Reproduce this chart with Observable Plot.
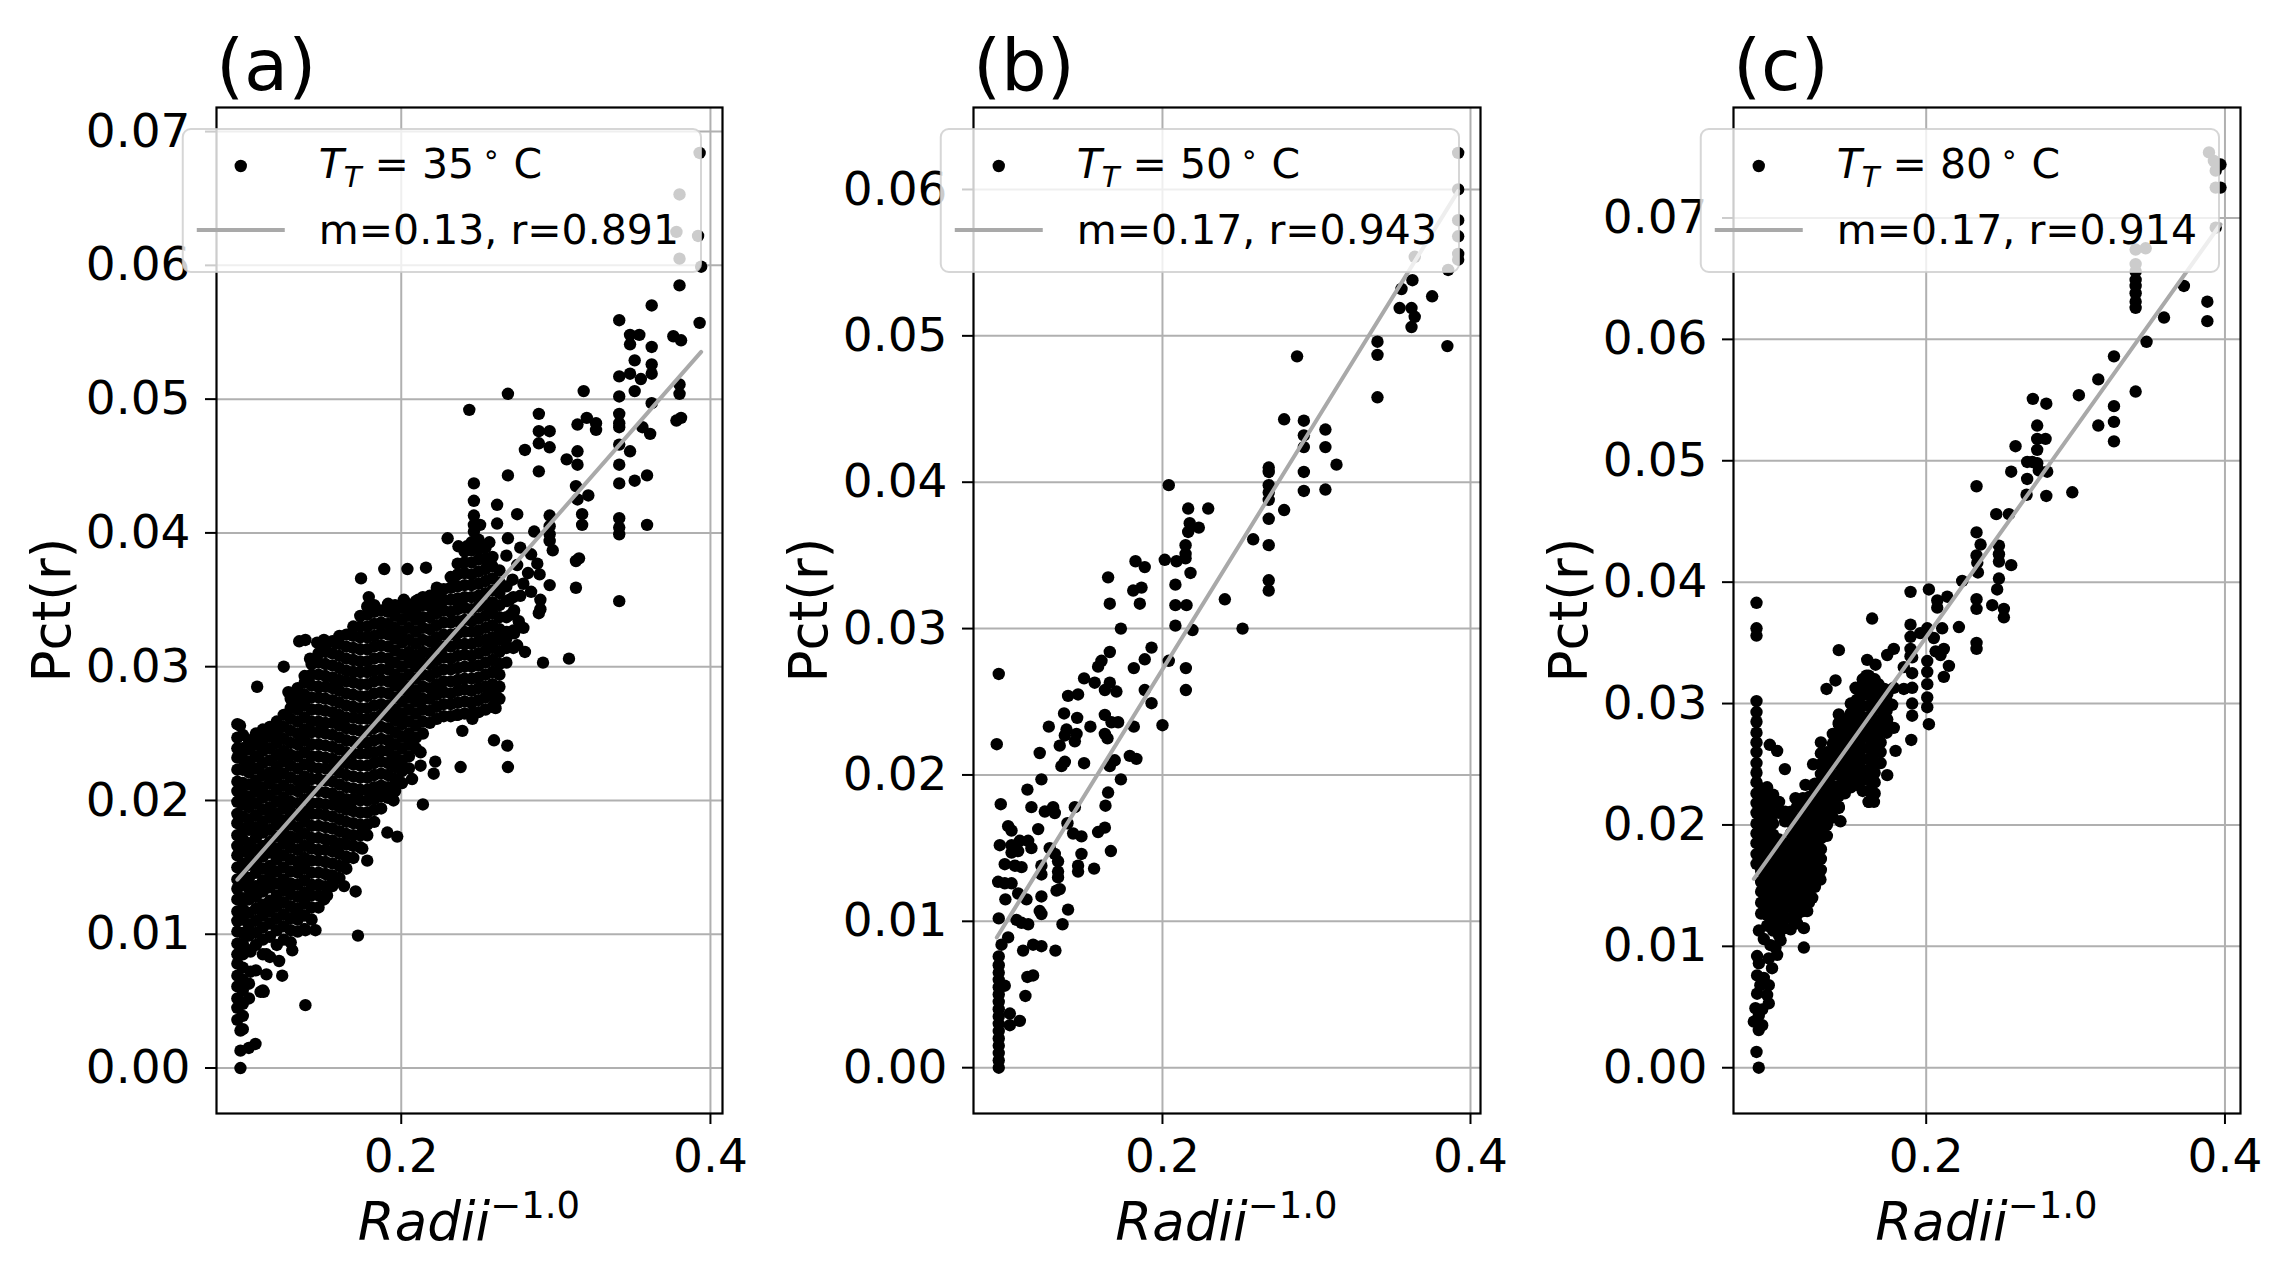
<!DOCTYPE html>
<html><head><meta charset="utf-8">
<script src="https://cdn.jsdelivr.net/npm/d3@7"></script>
<script src="https://cdn.jsdelivr.net/npm/@observablehq/plot@0.6"></script>
<style>
body{margin:0;background:#fff}
#wrap{position:relative;width:2278px;height:1268px;background:#fff}
#wrap svg{position:absolute;top:0}
</style></head><body><div id="wrap"></div>
<script>
// ---------------- DATA (y values in units of 1e-3) ----------------
const panelTitles = ["(a)", "(b)", "(c)"];
const temps = [35, 50, 80];
const legendM = ["0.13", "0.17", "0.17"];
const legendR = ["0.891", "0.943", "0.914"];
const fitSlope = [0.1315, 0.1702, 0.1726];
const fitIntercept = [0.00172, -0.00683, 0.00096];
const xTicks = [0.2, 0.4];
const yTicksA = [0, 0.01, 0.02, 0.03, 0.04, 0.05, 0.06, 0.07];
const yTicksB = [0, 0.01, 0.02, 0.03, 0.04, 0.05, 0.06];
const yTicksC = [0, 0.01, 0.02, 0.03, 0.04, 0.05, 0.06, 0.07];

// Panel (a): individually readable points [x, y]
const ptsA = [[0.393,68.4],[0.380,65.3],[0.378,62.5],[0.392,62.2],[0.380,60.5],[0.394,59.9],[0.380,58.5],[0.362,57.0],[0.341,55.9],[0.393,55.7],
[0.348,54.8],[0.354,54.8],[0.348,54.1],[0.362,53.9],[0.376,54.7],[0.381,54.4],[0.351,52.9],[0.362,52.6],[0.362,51.9],[0.341,51.7],
[0.348,51.9],[0.355,51.5],[0.351,50.6],[0.318,50.6],[0.380,51.1],[0.380,50.4],[0.341,50.2],[0.269,50.4],[0.244,49.2],[0.362,49.7],
[0.341,48.9],[0.341,48.2],[0.341,47.9],[0.289,48.9],[0.320,48.6],[0.326,48.2],[0.326,47.7],[0.314,48.1],[0.378,48.4],[0.381,48.6],
[0.356,47.9],[0.361,47.4],[0.289,47.6],[0.296,47.6],[0.289,46.7],[0.296,46.4],[0.280,46.2],[0.341,46.6],[0.348,46.1],[0.314,46.1],
[0.307,45.5],[0.314,45.1],[0.341,45.1],[0.289,44.6],[0.269,44.3],[0.359,44.3],[0.351,43.9],[0.341,43.7],[0.247,43.7],[0.313,43.5],
[0.314,42.5],[0.321,42.8],[0.247,42.4],[0.262,42.1],[0.275,41.4],[0.247,41.3],[0.247,40.6],[0.251,40.6],[0.247,40.1],[0.262,40.7],
[0.296,41.3],[0.296,40.5],[0.296,39.9],[0.296,39.4],[0.298,38.7],[0.317,41.4],[0.317,40.6],[0.341,41.1],[0.341,40.4],[0.341,39.9],
[0.359,40.6],[0.286,40.1],[0.269,39.6],[0.230,39.6],[0.257,39.3],[0.237,39.0],[0.2425,39.0],[0.277,38.9],[0.315,38.1],[0.313,37.9],
[0.284,38.4],[0.288,37.7],[0.282,37.0],[0.2895,36.9],[0.296,36.1],[0.272,36.5],[0.174,36.6],[0.189,37.3],[0.204,37.3],[0.216,37.4],
[0.179,35.2],[0.179,34.4],[0.183,34.3],[0.2017,35.0],[0.2017,34.4],[0.211,35.0],[0.223,35.9],[0.223,34.4],[0.235,36.1],[0.236,35.0],
[0.313,35.9],[0.341,34.9],[0.290,35.0],[0.290,34.3],[0.270,35.0],[0.277,35.3],[0.273,34.2],[0.275,37.6],[0.279,36.2],[0.284,35.6],
[0.268,38.3],[0.271,33.9],[0.276,33.4],[0.273,32.5],[0.279,32.9],[0.268,32.1],[0.275,31.6],[0.280,31.1],[0.289,34.0],[0.2917,30.3],
[0.3085,30.6],[0.2125,23.6],[0.2125,22.6],[0.214,19.7],[0.207,21.6],[0.1974,21.4],[0.195,20.0],[0.182,20.5],[0.189,20.7],[0.167,19.6],
[0.1974,17.3],[0.191,17.6],[0.175,17.6],[0.1748,16.4],[0.178,15.5],[0.165,15.7],[0.1705,13.2],[0.163,13.6],[0.154,14.4],[0.156,14.0],
[0.150,12.6],[0.152,12.9],[0.172,9.9],[0.138,10.3],[0.1445,10.3],[0.1327,11.6],[0.1295,8.8],[0.1128,8.5],[0.121,8.0],[0.1128,7.0],
[0.123,6.9],[0.109,5.7],[0.111,5.7],[0.138,4.7],[0.1025,7.2],[0.1025,8.7],[0.096,2.8],[0.096,1.3],[0.1014,1.5],[0.1057,1.8],
[0.096,0.0],[0.222,22.9],[0.221,22.0],[0.2384,22.5],[0.2395,25.2],[0.260,24.5],[0.2686,24.1],[0.269,22.5],[0.236,26.4],[0.246,26.1],
[0.261,26.9],[0.261,27.6],[0.261,28.3],[0.0957,25.6],[0.1068,28.5],[0.124,30.0],[0.127,28.1],[0.131,27.6],[0.138,32.0],[0.1456,31.8],
[0.1575,31.8],[0.141,30.6],[0.134,31.9],[0.150,32.0]];

// Panel (a): dense stacks read column by column [x, [y...]]
const colsA = [
[0.0940,[3.6,4.5,5.2,6.1,6.9,7.8,8.5,9.3,10.2,11.0,11.7,12.6,13.4,14.1,15.0,15.9,16.6,17.4,18.3,19.0,19.9,20.7,21.4,22.3,23.2,23.9,24.7,25.7]],
[0.0975,[2.9,3.9,4.8,5.8,6.6,7.5,8.5,9.3,10.1,11.1,11.9,12.7,13.7,14.5,15.3,16.2,17.1,17.9,18.8,19.7,20.5,21.3,22.3,23.1,23.9,24.9]],
[0.1015,[5.2,6.3,8.8,9.9,10.7,11.6,12.6,13.4,14.2,15.2,16.0,16.8,17.8,18.6,19.5,20.3,21.2,22.1,22.9,23.8,24.5]],
[0.1060,[7.3,9.2,10.1,11.0,11.9,12.8,13.6,14.6,15.4,16.3,17.2,18.0,18.9,19.8,20.7,21.5,22.4,23.3,24.2,25.0]],
[0.1105,[5.8,8.5,9.6,10.5,11.4,12.2,13.2,14.0,14.9,15.8,16.6,17.6,18.4,19.3,20.2,21.0,21.9,22.8,23.7,24.5,25.3]],
[0.1150,[8.3,9.8,10.8,11.7,12.5,13.5,14.3,15.1,16.1,16.9,17.8,18.7,19.5,20.4,21.3,22.1,23.0,23.9,24.8,25.5]],
[0.1195,[9.2,10.3,11.2,12.1,12.9,13.8,14.7,15.6,16.4,17.3,18.2,19.0,19.9,20.8,21.7,22.5,23.4,24.3,25.1,25.9]],
[0.1240,[9.6,10.6,11.5,12.4,13.3,14.1,15.0,15.9,16.8,17.6,18.5,19.4,20.2,21.1,22.0,22.9,23.7,24.6,25.5,26.4]],
[0.1285,[9.4,10.3,11.2,12.1,13.0,13.8,14.7,15.6,16.5,17.3,18.2,19.1,19.9,20.8,21.7,22.6,23.4,24.3,25.2,26.1,26.9,27.6]],
[0.1330,[10.2,11.1,11.9,12.8,13.7,14.6,15.4,16.3,17.2,18.0,18.9,19.8,20.7,21.5,22.4,23.3,24.2,25.0,25.9,26.8,27.6,28.4]],
[0.1375,[10.4,11.4,12.3,13.1,14.0,14.9,15.7,16.6,17.5,18.4,19.2,20.1,21.0,21.8,22.7,23.6,24.5,25.3,26.2,27.1,27.9,28.8,29.3]],
[0.1420,[11.1,12.0,12.9,13.7,14.6,15.5,16.4,17.2,18.1,19.0,19.8,20.7,21.6,22.5,23.3,24.2,25.1,25.9,26.8,27.7,28.6,29.4,30.2]],
[0.1465,[12.0,12.9,13.7,14.6,15.5,16.3,17.2,18.1,19.0,19.8,20.7,21.6,22.4,23.3,24.2,25.1,25.9,26.8,27.7,28.5,29.4,30.3,31.0]],
[0.1510,[12.8,13.6,14.5,15.4,16.3,17.1,18.0,18.9,19.7,20.6,21.5,22.4,23.2,24.1,25.0,25.8,26.7,27.6,28.5,29.3,30.2,31.1,31.6]],
[0.1555,[13.6,14.4,15.3,16.2,17.0,17.9,18.8,19.7,20.5,21.4,22.3,23.1,24.0,24.9,25.8,26.6,27.5,28.4,29.2,30.1,31.0,31.9]],
[0.1600,[14.2,15.1,16.0,16.8,17.7,18.6,19.5,20.3,21.2,22.1,22.9,23.8,24.7,25.6,26.4,27.3,28.2,29.0,29.9,30.8,31.7,32.3]],
[0.1645,[14.9,15.8,16.7,17.5,18.4,19.3,20.1,21.0,21.9,22.8,23.6,24.5,25.4,26.2,27.1,28.0,28.9,29.7,30.6,31.5,32.4]],
[0.1690,[15.7,16.6,17.4,18.3,19.2,20.1,20.9,21.8,22.7,23.5,24.4,25.3,26.2,27.0,27.9,28.8,29.6,30.5,31.4,32.3,33.0]],
[0.1735,[16.5,17.4,18.2,19.1,20.0,20.8,21.7,22.6,23.5,24.3,25.2,26.1,26.9,27.8,28.7,29.6,30.4,31.3,32.2,33.0,33.8]],
[0.1780,[17.4,18.2,19.1,20.0,20.8,21.7,22.6,23.5,24.3,25.2,26.1,26.9,27.8,28.7,29.6,30.4,31.3,32.2,33.0,33.9,34.5]],
[0.1825,[18.4,19.3,20.1,21.0,21.9,22.8,23.6,24.5,25.4,26.2,27.1,28.0,28.9,29.7,30.6,31.5,32.3,33.2,34.1,34.6]],
[0.1870,[19.4,20.3,21.1,22.0,22.9,23.7,24.6,25.5,26.4,27.2,28.1,29.0,29.8,30.7,31.6,32.5,33.3,34.2]],
[0.1915,[20.2,21.0,21.9,22.8,23.7,24.5,25.4,26.3,27.1,28.0,28.9,29.8,30.6,31.5,32.4,33.2,34.1,34.7]],
[0.1960,[20.7,21.6,22.5,23.3,24.2,25.1,26.0,26.8,27.7,28.6,29.4,30.3,31.2,32.1,32.9,33.8,34.6]],
[0.2005,[21.3,22.2,23.0,23.9,24.8,25.7,26.5,27.4,28.3,29.1,30.0,30.9,31.8,32.6,33.5,34.4]],
[0.2050,[22.4,23.3,24.2,25.0,25.9,26.8,27.7,28.5,29.4,30.3,31.1,32.0,32.9,33.8,34.6]],
[0.2095,[23.9,24.7,25.6,26.5,27.4,28.2,29.1,30.0,30.8,31.7,32.6,33.5,34.3,34.9]],
[0.2140,[25.0,25.9,26.8,27.6,28.5,29.4,30.3,31.1,32.0,32.9,33.7,34.6,35.2]],
[0.2185,[25.8,26.7,27.6,28.4,29.3,30.2,31.0,31.9,32.8,33.7,34.5,35.3]],
[0.2230,[26.1,27.0,27.9,28.7,29.6,30.5,31.4,32.2,33.1,34.0,34.8,35.6]],
[0.2275,[26.3,27.2,28.1,28.9,29.8,30.7,31.5,32.4,33.3,34.2,35.0,35.8]],
[0.2320,[26.3,27.2,28.0,28.9,29.8,30.6,31.5,32.4,33.3,34.1,35.0,35.9,36.7]],
[0.2365,[26.4,27.3,28.2,29.0,29.9,30.8,31.7,32.5,33.4,34.3,35.1,36.0,36.9,37.7]],
[0.2410,[26.5,27.4,28.3,29.1,30.0,30.9,31.7,32.6,33.5,34.4,35.2,36.1,37.0,37.8,38.6]],
[0.2455,[26.5,27.3,28.2,29.1,30.0,30.8,31.7,32.6,33.4,34.3,35.2,36.1,36.9,37.8,38.7,39.3]],
[0.2500,[26.6,27.5,28.4,29.2,30.1,31.0,31.9,32.7,33.6,34.5,35.3,36.2,37.1,38.0,38.8,39.5]],
[0.2545,[26.8,27.7,28.5,29.4,30.3,31.2,32.0,32.9,33.8,34.6,35.5,36.4,37.3,38.1,38.9]],
[0.2590,[27.0,27.9,28.7,29.6,30.5,31.4,32.2,33.1,34.0,34.8,35.7,36.6,37.5,38.2]],
[0.2635,[27.6,28.5,29.4,30.2,31.1,32.0,32.8,33.7,34.6,35.5,36.3,37.2]],
[0.2680,[30.3,31.4,32.6,33.7,34.9,36.0]],
[0.2725,[31.4,32.7,34.0,35.2]]];

// Panel (b): individually readable points [x, y]
const ptsB = [[0.392,62.5],[0.392,60.0],[0.392,57.9],[0.392,56.8],[0.392,55.6],[0.392,55.2],[0.3855,54.5],[0.3638,55.4],
[0.3623,53.8],[0.3552,53.2],[0.3751,52.7],[0.354,51.9],[0.3617,51.9],[0.3638,51.3],[0.3617,50.6],[0.3396,49.6],[0.3396,48.7],[0.385,49.3],
[0.2874,48.6],[0.3396,45.8],[0.279,44.3],[0.2918,44.2],[0.2918,43.2],[0.2918,42.4],[0.3058,43.6],[0.3058,42.4],[0.313,41.2],[0.269,41.0],
[0.269,40.7],[0.269,39.8],[0.269,39.3],[0.269,38.8],[0.2918,40.7],[0.2918,39.4],[0.3058,39.5],[0.279,38.1],[0.269,37.5],[0.2589,36.1],
[0.269,35.7],[0.269,33.3],[0.269,32.6],[0.2405,32.0],[0.2041,39.8],[0.2167,38.2],[0.2297,38.2],[0.2177,37.2],[0.2236,36.9],[0.2167,36.6],
[0.215,35.7],[0.215,35.1],[0.215,34.8],[0.2015,34.7],[0.2091,34.6],[0.2182,33.8],[0.2084,33.0],[0.2084,31.6],[0.2156,31.6],[0.1825,34.6],
[0.1885,34.2],[0.181,32.6],[0.1864,32.8],[0.1853,31.7],[0.1647,33.5],[0.1658,31.7],
[0.173,30.0],[0.2084,30.2],[0.2195,29.9],[0.252,30.0],[0.1658,28.4],[0.1604,27.8],[0.1582,27.4],[0.1929,28.7],[0.1885,27.9],[0.1814,27.3],
[0.2041,27.8],[0.2152,27.3],[0.2152,25.8],[0.0937,26.9],[0.1491,26.6],[0.156,26.3],[0.1658,26.3],[0.1626,25.8],[0.1701,25.7],[0.1885,25.8],
[0.1929,24.9],[0.1387,25.4],[0.1452,25.5],[0.1361,24.2],[0.1446,23.9],[0.1626,24.1],[0.1669,23.6],[0.1712,23.6],[0.2,23.4],[0.1814,23.3],
[0.1532,23.3],[0.1262,23.3],[0.1377,23.1],[0.1442,22.8],[0.1366,22.7],[0.1626,22.8],[0.1643,22.5],[0.1333,22.0],[0.1431,22.3],[0.0924,22.1],
[0.1203,21.5],[0.1788,21.3],[0.1831,21.1],[0.169,21.0],[0.1658,20.6],[0.1366,20.9],[0.1344,20.6],[0.1491,20.8],[0.173,19.7],[0.1214,19.7],
[0.1123,19.0],[0.1647,18.8],[0.095,18.0],[0.1149,17.8],[0.1236,17.5],[0.129,17.8],[0.1301,17.4],[0.1431,17.8],[0.163,17.9],[0.0998,16.5],
[0.102,16.2],[0.1193,16.3],[0.1383,16.7],[0.142,16.0],[0.1474,15.8],[0.1626,16.4],[0.1582,16.1],[0.0944,15.2],[0.102,15.2],[0.1074,15.5],
[0.1128,15.5],[0.1149,15.0],[0.102,14.7],[0.1063,14.8],[0.1268,15.0],[0.1301,14.6],[0.1322,14.1],[0.1474,14.6],[0.1665,14.8],[0.0976,13.9],
[0.1041,13.8],[0.1085,13.7],[0.1214,13.8],[0.1214,13.2],[0.1322,13.4],[0.1322,13.0],[0.1452,13.8],[0.1452,13.4],[0.1556,13.6],[0.0933,12.7],
[0.0976,12.6],[0.102,12.6],[0.1063,11.9],[0.1117,11.5],[0.098,11.5],[0.1214,11.7],[0.1312,12.1],[0.1333,12.2],[0.1387,10.8],[0.1203,10.7],
[0.1214,10.5],[0.0937,10.2],[0.1052,10.1],[0.1085,9.9],[0.1128,9.8],[0.1351,9.8],[0.0998,8.9],[0.0955,8.4],[0.116,8.4],[0.1214,8.3],
[0.1095,8.0],[0.1305,8.0],[0.1123,6.2],[0.116,6.3],[0.111,4.9],[0.1009,3.7],[0.1074,3.2],[0.1009,2.9],[0.0976,5.6]];

// Panel (b): stacked column at the smallest radius
const colsB = [[0.0937,[0.0,0.5,1.0,1.5,2.0,2.5,3.0,3.5,4.0,4.5,5.0,5.5,6.0,6.5,7.0,7.6]]];

// Panel (c): individually readable points [x, y]
const ptsC = [[0.3893,75.4],[0.3926,74.7],[0.3938,73.9],[0.3938,72.5],[0.3938,69.2],[0.397,74.4],[0.397,72.5],[0.3402,67.4],[0.3469,67.5],
[0.3402,66.2],[0.3402,65.6],[0.3402,64.9],[0.3402,64.4],[0.3402,63.8],[0.3402,63.1],[0.3402,62.6],[0.3725,64.4],[0.3882,63.1],[0.3882,61.5],
[0.3592,61.8],[0.3475,59.8],[0.3257,58.6],[0.3152,56.7],[0.3402,55.7],[0.3022,55.4],[0.2714,55.1],[0.2804,54.7],[0.3257,54.5],[0.3257,53.2],
[0.3257,51.6],[0.3152,52.9],[0.2743,52.9],[0.2743,51.8],[0.2799,51.8],[0.2598,51.2],[0.2743,50.9],[0.271,49.9],[0.2676,49.9],[0.2743,49.8],
[0.2754,49.2],[0.2569,49.1],[0.281,49.1],[0.2676,48.5],[0.2337,47.9],[0.2978,47.4],[0.2804,47.1],[0.2672,47.2],[0.2469,45.6],[0.2554,45.6],
[0.2337,44.1],[0.2364,43.1],[0.2337,42.2],[0.2342,41.6],[0.2346,40.8],[0.2487,43.0],[0.2487,42.3],[0.2487,41.7],[0.2569,41.4],[0.2487,40.3],
[0.2475,39.4],[0.2241,40.1],[0.1895,39.2],[0.2018,39.4],[0.2141,38.8],[0.2074,38.5],[0.2074,37.9],[0.2337,38.6],[0.2337,37.8],[0.2442,38.1],
[0.252,37.8],[0.252,37.1],[0.0864,38.3],[0.1638,37.0],
[0.0864,36.2],[0.0864,35.6],[0.1415,34.4],[0.1739,34.0],[0.1783,34.5],[0.1605,33.6],[0.1661,33.2],
[0.1895,36.5],[0.1895,35.5],[0.1895,34.5],[0.1895,33.9],[0.2007,36.2],[0.2051,35.4],[0.2107,36.2],[0.2118,34.5],[0.2063,34.3],[0.2219,36.3],
[0.2337,35.0],[0.2337,34.5],[0.2152,33.1],[0.2118,32.2],[0.2007,33.5],[0.2007,32.6],[0.2007,31.6],[0.2007,30.5],[0.2007,29.7],[0.2018,28.3],
[0.1906,33.8],[0.1906,32.5],[0.1906,31.3],[0.1906,30.0],[0.1906,29.0],[0.190,27.0],[0.1393,31.9],[0.1333,31.2],[0.1527,31.3],[0.160,32.3],
[0.164,32.0],[0.168,31.6],[0.172,31.2],[0.162,31.0],[0.166,30.5],[0.170,30.2],[0.174,30.8],[0.1783,31.3],[0.185,31.2],[0.1772,29.9],
[0.1739,28.7],[0.1783,28.0],[0.1795,26.1],[0.1739,24.1],[0.1683,26.6],[0.1415,28.3],[0.1393,27.3],[0.1616,21.9],[0.1650,21.9],
[0.1243,25.0],[0.1426,20.3],[0.1415,21.4],[0.1348,20.6],[0.1192,23.3],[0.1125,22.2],[0.0953,26.6],[0.1002,26.1],[0.1054,24.6],
[0.0868,9.2],[0.0880,8.6],[0.0946,9.0],[0.1002,9.3],[0.0968,8.2],[0.0868,7.6],[0.0913,7.4],[0.0890,6.8],[0.0946,6.8],[0.0868,6.1],
[0.0935,6.0],[0.0946,5.3],[0.0857,4.9],[0.0902,4.8],[0.0879,4.3],[0.0846,3.8],[0.0902,3.5],[0.0879,3.1],[0.0864,1.3],[0.0879,0.0],
[0.0913,10.6],[0.0880,11.3],[0.0958,10.1],[0.0991,9.9],[0.1025,10.5],[0.1092,11.4],[0.1136,11.9],[0.1181,11.5],[0.1181,9.9],[0.1203,12.9],
[0.1237,14.0],[0.1292,15.5],[0.2096,34.0],[0.1850,33.0],[0.1960,35.8]];

// Panel (c): dense stacks read column by column [x, [y...]]
const colsC = [
[0.0864,[16.8,17.6,18.5,19.3,20.1,21.0,21.8,22.6,23.5,24.3,25.1,26.0,26.8,27.6,28.5,29.3,30.2]],
[0.0895,[12.7,13.6,14.5,15.3,16.2,17.1,18.0,18.8,19.7,20.6,21.5,22.3,23.0]],
[0.0935,[11.7,12.6,13.5,14.3,15.2,16.1,17.0,17.8,18.7,19.6,20.5,21.3,22.2,23.1]],
[0.0975,[11.3,12.2,13.1,13.9,14.8,15.7,16.6,17.4,18.3,19.2,20.1,20.9,21.8,22.5]],
[0.1015,[10.9,11.8,12.7,13.5,14.4,15.3,16.2,17.0,17.9,18.8,21.0,21.9]],
[0.1055,[11.5,12.4,13.3,14.1,15.0,15.9,16.8,17.6,18.5,20.3,21.1]],
[0.1095,[12.3,13.2,14.1,14.9,15.8,16.7,17.6,18.4,19.3,20.2,21.1]],
[0.1135,[12.6,13.5,14.3,15.2,16.1,17.0,17.8,18.7,19.6,20.5,21.5]],
[0.1175,[12.9,13.8,14.6,15.5,16.4,17.3,18.1,19.0,19.9,20.8,21.7,22.2]],
[0.1215,[13.6,14.5,15.3,16.2,17.1,18.0,18.8,19.7,20.6,21.5,22.3]],
[0.1255,[14.9,15.8,16.6,17.5,18.4,19.3,20.1,21.0,21.9,22.8,23.4]],
[0.1295,[16.3,17.2,18.0,18.9,19.8,20.7,21.5,22.4,23.3,24.2,25.0,25.9,26.8]],
[0.1335,[19.1,20.0,20.8,21.7,22.6,23.5,24.3,25.2,26.0]],
[0.1375,[20.6,21.5,22.3,23.2,24.1,25.0,25.8,26.7,27.5]],
[0.1415,[21.5,22.4,23.2,24.1,25.0,25.9,26.7,27.6,28.4,29.1]],
[0.1455,[22.6,23.5,24.3,25.2,26.1,27.0,27.8,28.7]],
[0.1495,[23.1,24.0,24.8,25.7,26.6,27.5,28.3,29.2,30.0]],
[0.1535,[23.3,24.2,25.0,25.9,26.8,27.7,28.5,29.4,30.3,31.2]],
[0.1575,[22.8,23.7,24.5,25.4,26.3,27.2,28.0,28.9,29.8,30.7,31.5,32.0]],
[0.1615,[21.9,22.8,23.7,24.5,25.4,26.3,27.2,28.0,28.9,29.8,30.7,31.5,32.3]],
[0.1655,[22.6,23.5,24.3,25.2,26.1,27.0,27.8,28.7,29.6,30.5,31.3,32.0]],
[0.1695,[25.1,26.0,26.8,27.7,28.6,29.5,30.3,31.2]],
[0.1735,[27.6,28.5,29.4,30.2,31.1]]];

// axis domains as read from the frames
const xDomains = [[0.0805, 0.4078], [0.0773, 0.4065], [0.0710, 0.4104]];
const yDomains = [[-0.0034, 0.0718], [-0.00313, 0.0656], [-0.00377, 0.0791]];

// ---------------- BUILD ----------------
function expand(pts, cols) {
  const out = pts.map(([x, y]) => ({x, y: y / 1000}));
  for (const [x, ys] of cols) for (const y of ys) out.push({x, y: y / 1000});
  return out;
}
const datasets = [expand(ptsA, colsA), expand(ptsB, colsB), expand(ptsC, colsC)];
const yTickSets = [yTicksA, yTicksB, yTicksC];

// layout of the three panels (svg offset, width, frame margins)
const layout = [
  {left: 0,    width: 760, ml: 216, mr: 38},
  {left: 760,  width: 760, ml: 213, mr: 40},
  {left: 1520, width: 758, ml: 213, mr: 38}
];
const MT = 107, MB = 155, H = 1268;
const FONT = "DejaVu Sans, Verdana, sans-serif";
const wrap = document.getElementById("wrap");

layout.forEach((L, i) => {
  const data = datasets[i];
  const [x0, x1] = d3.extent(data, d => d.x);
  const fit = [x0, x1].map(x => ({x, y: fitIntercept[i] + fitSlope[i] * x}));
  const svg = Plot.plot({
    width: L.width, height: H,
    marginLeft: L.ml, marginRight: L.mr, marginTop: MT, marginBottom: MB,
    x: {domain: xDomains[i]},
    y: {domain: yDomains[i]},
    style: {fontFamily: FONT, color: "black", background: "white", overflow: "visible"},
    marks: [
      Plot.gridX({ticks: xTicks, stroke: "#b0b0b0", strokeOpacity: 1, strokeWidth: 2}),
      Plot.gridY({ticks: yTickSets[i], stroke: "#b0b0b0", strokeOpacity: 1, strokeWidth: 2}),
      Plot.dot(data, {x: "x", y: "y", r: 6.2, fill: "black", stroke: "none"}),
      Plot.line(fit, {x: "x", y: "y", stroke: "#a9a9a9", strokeWidth: 4}),
      Plot.frame({stroke: "black", strokeWidth: 2.2}),
      Plot.axisX({ticks: xTicks, tickFormat: d3.format(".1f"), tickSize: 11, tickPadding: 14, fontSize: 47, label: null, strokeWidth: 2}),
      Plot.axisY({ticks: yTickSets[i], tickFormat: d3.format(".2f"), tickSize: 11, tickPadding: 15, fontSize: 47, label: null, strokeWidth: 2})
    ]
  });
  svg.style.left = L.left + "px";
  wrap.appendChild(svg);

  const s = d3.select(svg);
  const fl = L.ml, fr = L.width - L.mr;
  const g = s.append("g").attr("font-family", FONT).attr("fill", "black");

  // panel title
  g.append("text").attr("x", fl).attr("y", MT - 17).attr("text-anchor", "start")
    .attr("font-size", 72).text(panelTitles[i]);

  // x label: Radii^{-1.0}
  const xl = g.append("text").attr("x", (fl + fr) / 2).attr("y", 1240)
    .attr("text-anchor", "middle").attr("font-size", 53);
  xl.append("tspan").attr("font-style", "italic").text("Radii");
  xl.append("tspan").attr("font-size", 37).attr("dy", -22).text("\u22121.0");

  // y label
  g.append("text").attr("transform", `translate(${fl - 146},${(MT + H - MB) / 2}) rotate(-90)`)
    .attr("text-anchor", "middle").attr("font-size", 53).text("Pct(r)");

  // legend
  const lg = s.append("g").attr("font-family", FONT).attr("text-anchor", "start");
  const rect = lg.append("rect");
  const t2 = lg.append("text").attr("font-size", 41).attr("fill", "black").attr("text-anchor", "start")
    .text(`m=${legendM[i]}, r=${legendR[i]}`);
  const tw = t2.node().getComputedTextLength();
  const right = fr - 21, lleft = right - (136 + tw + 22), top = MT + 22;
  rect.attr("x", lleft).attr("y", top).attr("width", right - lleft).attr("height", 143)
    .attr("rx", 8).attr("fill", "white").attr("fill-opacity", 0.8)
    .attr("stroke", "#cccccc").attr("stroke-opacity", 0.8).attr("stroke-width", 2);
  const tx = lleft + 136;
  t2.attr("x", tx).attr("y", top + 115);
  lg.append("circle").attr("cx", lleft + 58).attr("cy", top + 37).attr("r", 6.2).attr("fill", "black");
  lg.append("line").attr("x1", lleft + 14).attr("x2", lleft + 102).attr("y1", top + 101).attr("y2", top + 101)
    .attr("stroke", "#a9a9a9").attr("stroke-width", 4);
  const t1 = lg.append("text").attr("x", tx).attr("y", top + 49).attr("font-size", 41)
    .attr("fill", "black").attr("text-anchor", "start");
  t1.append("tspan").attr("font-style", "italic").text("T");
  t1.append("tspan").attr("font-style", "italic").attr("font-size", 29).attr("dy", 9).text("T");
  t1.append("tspan").attr("dy", -9).text("\u00a0=\u00a0" + temps[i] + "\u2009");
  t1.append("tspan").attr("font-size", 29).attr("dy", -14).text("\u2218");
  t1.append("tspan").attr("dy", 14).text("\u00a0C");
});
</script></body></html>
